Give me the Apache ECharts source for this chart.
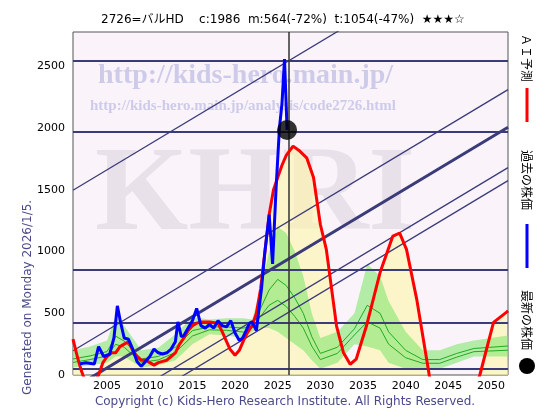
<!DOCTYPE html>
<html><head><meta charset="utf-8">
<script src="https://cdn.jsdelivr.net/npm/echarts@6/dist/echarts.min.js"></script>
<style>html,body{margin:0;padding:0;background:#fff}#c{width:560px;height:420px}</style>
</head><body><div id="c"></div>
<script>
// past price (blue)
const pastYears = [2001.8,2002.5,2003.5,2004,2004.6,2005.3,2005.8,2006.2,2006.6,2007,2007.5,2008,2008.5,2009,2009.5,2010,2010.5,2011,2011.5,2012,2012.5,2013,2013.3,2013.7,2014,2014.5,2015,2015.5,2016,2016.5,2017,2017.5,2018,2018.5,2019,2019.5,2020,2020.5,2020.9,2021.3,2021.7,2022,2022.5,2023.1,2023.5,2024,2024.4,2024.8,2025.2,2025.5,2025.8,2026.1]
const pastVals = [90,100,90,230,150,170,300,560,420,300,290,210,110,70,110,150,210,180,170,180,210,270,430,310,320,380,440,540,400,380,410,380,440,400,390,440,340,280,300,360,420,430,360,700,1000,1300,900,1500,2000,2200,2560,1986]
// AI prediction (red)
const aiYears = [2001,2001.5,2002,2002.5,2003.5,2004,2004.5,2005,2005.5,2006,2006.5,2007,2007.5,2008,2008.5,2009,2009.5,2010,2010.5,2011,2011.5,2012,2012.5,2013,2013.5,2014,2014.5,2015,2015.5,2016,2017,2018,2018.5,2019.4,2020,2020.5,2021,2021.5,2022,2022.5,2023,2023.5,2024,2024.5,2025,2025.5,2026,2026.8,2027.5,2028.4,2029.2,2030,2030.7,2031.9,2032.7,2033.5,2034.2,2035.4,2037,2038.5,2039.3,2040.1,2041.3,2042.4,2043,2045,2047,2048.7,2050.3,2051.8,2052]
const aiVals = [290,150,30,-60,-60,0,100,150,180,180,230,250,270,200,150,120,120,100,80,100,110,120,150,180,250,300,360,400,420,430,430,420,350,210,160,200,280,350,400,500,700,1000,1300,1500,1600,1700,1780,1855,1820,1760,1600,1220,1018,397,183,87,128,397,830,1126,1150,1018,613,154,-100,-300,-300,0,427,508,520]
// green band (range of simulations)
const bandYears = [2001,2003,2005,2006,2007,2009,2011,2013,2015,2017,2019,2021,2022,2023,2024,2025,2026,2027,2028,2029,2030,2032,2034,2035.5,2037,2038,2040,2042,2044,2046,2048,2050,2052]
const bandLow = [60,80,100,150,150,60,80,120,250,330,320,300,350,380,380,350,300,250,200,120,50,100,250,230,200,100,50,50,50,100,150,150,150]
const bandHigh = [200,230,280,480,400,200,220,330,470,450,460,460,450,700,1000,1200,1150,1000,800,500,300,350,500,900,800,600,350,200,200,250,280,300,320]
const hLines = [2545,1975,857,427,52]
const diagIntercepts = [1497,196,-108,-436,-541] // value at 2001, slope 41.5/yr
const slope = 41.5
const xLabels = [2005,2010,2015,2020,2025,2030,2035,2040,2045,2050]
const yTicks = [0,500,1000,1500,2000,2500]

const zip = (a,b)=>a.map((x,i)=>[x,b[i]])
const navy = '#3b3b7a'
const diagSeries = diagIntercepts.map((b,i)=>({
  type:'line', data:[[2001,b],[2052,b+slope*51]], symbol:'none', silent:true, z:3,
  lineStyle:{color:navy,width:i===2?3:1.3}
}))
const bandData = bandYears.map((x,i)=>[x,bandLow[i],bandHigh[i]])
const chart = echarts.init(document.getElementById('c'))
chart.setOption({
  animation:false,
  textStyle:{fontFamily:'DejaVu Sans'},
  title:{text:'2726=バルHD    c:1986  m:564(-72%)  t:1054(-47%)  ★★★☆', left:96, top:9,
    textStyle:{fontSize:12,fontWeight:'normal',color:'#000',fontFamily:'DejaVu Sans, Noto Sans CJK JP'}},
  grid:{left:73,right:52,top:32,bottom:45,show:true,backgroundColor:'#faf4fa',borderColor:'#555',borderWidth:1},
  xAxis:{type:'value',min:2001,max:2052,
    axisLine:{show:false},axisTick:{show:false},splitLine:{show:false},
    axisLabel:{customValues:xLabels,formatter:v=>String(v),fontSize:11,color:'#000',margin:6}},
  yAxis:{type:'value',min:0,max:2780,
    axisLine:{show:false},axisTick:{show:false},splitLine:{show:false},
    axisLabel:{customValues:yTicks,formatter:v=>String(v),fontSize:11,color:'#000'}},
  graphic:[
    {type:'text',left:95,top:138,z:1,style:{text:'KHRI',fontSize:120,fontFamily:'Liberation Serif',fontWeight:'bold',fill:'rgba(215,205,215,0.5)'}},
    {type:'text',left:98,top:62,z:1,style:{text:'http://kids-hero.main.jp/',fontSize:28,fontFamily:'Liberation Serif',fontWeight:'bold',fill:'rgba(170,170,220,0.55)'}},
    {type:'text',left:90,top:99,z:1,style:{text:'http://kids-hero.main.jp/analysis/code2726.html',fontSize:15,fontFamily:'Liberation Serif',fontWeight:'bold',fill:'rgba(170,170,220,0.55)'}},
    {type:'text',x:22,y:395,rotation:Math.PI/2,style:{text:'Generated on Monday 2026/1/5.',fontSize:12,fill:'#4a4a8a',fontFamily:'DejaVu Sans'}},
    {type:'text',x:285,y:396,style:{text:'Copyright (c) Kids-Hero Research Institute. All Rights Reserved.',fontSize:12,fill:'#4a4a8a',fontFamily:'DejaVu Sans',align:'center'}},
    {type:'text',x:533,y:34,rotation:-Math.PI/2,style:{text:'ＡＩ予測',fontSize:12,fill:'#000',fontFamily:'Noto Sans CJK JP'}},
    {type:'line',shape:{x1:527,y1:88,x2:527,y2:122},style:{stroke:'#ff0000',lineWidth:3}},
    {type:'text',x:533,y:150,rotation:-Math.PI/2,style:{text:'過去の株価',fontSize:12,fill:'#000',fontFamily:'Noto Sans CJK JP'}},
    {type:'line',shape:{x1:527,y1:224,x2:527,y2:268},style:{stroke:'#0000ff',lineWidth:3}},
    {type:'text',x:533,y:290,rotation:-Math.PI/2,style:{text:'最新の株価',fontSize:12,fill:'#000',fontFamily:'Noto Sans CJK JP'}},
    {type:'circle',shape:{cx:527,cy:366,r:8},style:{fill:'#000'}}
  ],
  series:[
    {type:'line',data:zip(aiYears,aiVals.map(v=>Math.max(v,0))),symbol:'none',lineStyle:{width:0},
      areaStyle:{color:'rgba(255,245,170,0.85)'},z:2,silent:true},
    {type:'custom',z:2,silent:true,data:bandData,clip:true,
      renderItem:(params,api)=>{
        if(params.dataIndex!==0) return null
        const top=bandData.map(d=>api.coord([d[0],d[2]]))
        const bot=bandData.map(d=>api.coord([d[0],d[1]])).reverse()
        return {type:'polygon',shape:{points:top.concat(bot)},style:{fill:'rgba(130,230,110,0.6)'}}
      }},
    {type:'line',data:zip(bandYears,bandLow.map((v,i)=>(v+bandHigh[i])/2)),symbol:'none',lineStyle:{color:'#22aa22',width:1},z:2},
    {type:'line',data:zip(bandYears,bandLow.map((v,i)=>v*0.7+bandHigh[i]*0.3)),symbol:'none',lineStyle:{color:'#22aa22',width:1},z:2},
    ...diagSeries,
    {type:'line',data:[],markLine:{symbol:'none',silent:true,label:{show:false},
      data:[...hLines.map(v=>({yAxis:v,lineStyle:{color:navy,width:2.2,type:'solid'}})),
        {xAxis:2026.3,lineStyle:{color:'#333',width:1.5,type:'solid'}}]}},
    {type:'line',data:zip(aiYears,aiVals),symbol:'none',lineStyle:{color:'#ff0000',width:3},z:5},
    {type:'line',data:zip(pastYears,pastVals),symbol:'none',lineStyle:{color:'#0000ff',width:3},z:6},
    {type:'scatter',data:[[2026.1,1986]],symbolSize:20,itemStyle:{color:'#000'},z:7}
  ]
})
</script></body></html>
